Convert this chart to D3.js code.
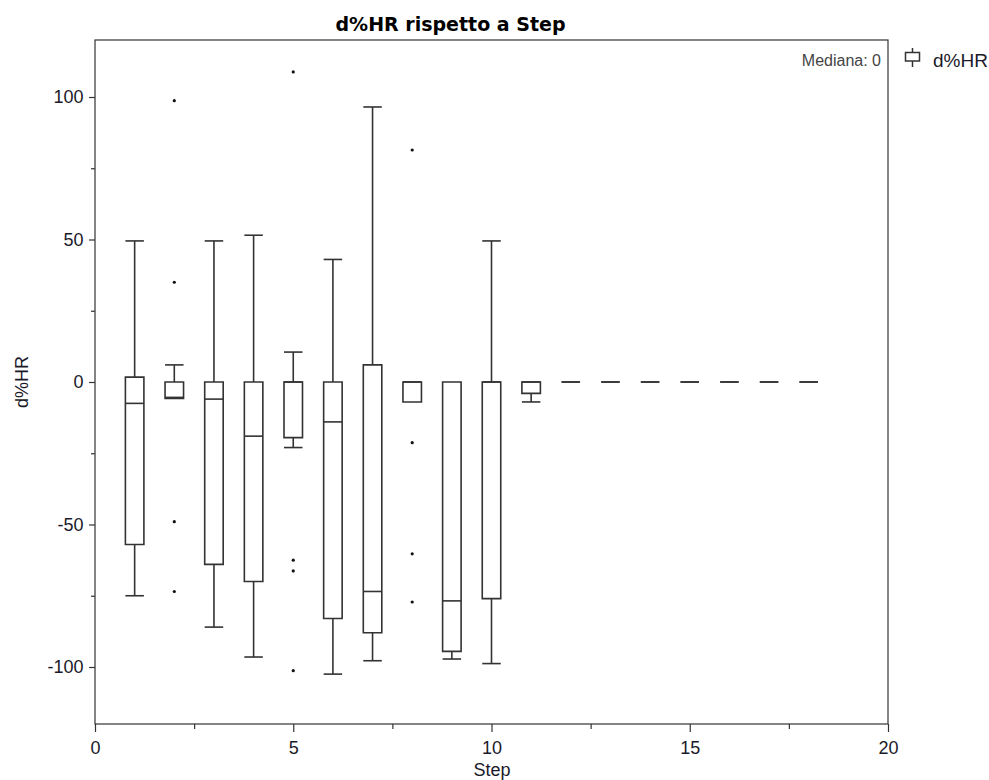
<!DOCTYPE html>
<html><head><meta charset="utf-8">
<script src="https://cdn.jsdelivr.net/npm/d3@7"></script>
<style>body{margin:0;background:#fff;}svg{display:block;font-family:"Liberation Sans",Arial,sans-serif;}</style>
</head><body>
<svg id="c" width="989" height="780"></svg>
<script>
const steps        = [1, 2, 3, 4, 5, 6, 7, 8, 9, 10, 11, 12, 13, 14, 15, 16, 17, 18];
const whiskerHigh  = [49.5, 6, 49.5, 51.5, 10.5, 43, 96.5, 0, 0, 49.5, 0, 0, 0, 0, 0, 0, 0, 0];
const q3           = [1.7, 0, 0, 0, 0, 0, 6, 0, 0, 0, 0, 0, 0, 0, 0, 0, 0, 0];
const median       = [-7.5, -5.4, -6, -19, 0, -14, -73.5, 0, -76.8, 0, 0, 0, 0, 0, 0, 0, 0, 0];
const q1           = [-57, -5.8, -64, -70, -19.5, -83, -88, -7, -94.5, -76, -4, 0, 0, 0, 0, 0, 0, 0];
const whiskerLow   = [-75, -5.8, -86, -96.5, -23, -102.5, -97.8, -7, -97.2, -98.8, -7, 0, 0, 0, 0, 0, 0, 0];
const outlierStep  = [2, 2, 2, 2, 5, 5, 5, 5, 8, 8, 8, 8];
const outlierValue = [98.7, 35, -49, -73.5, 108.8, -62.5, -66.3, -101.3, 81.4, -21.3, -60.3, -77.2];
const xTicks = [0, 5, 10, 15, 20];
const yTicks = [-100, -50, 0, 50, 100];

const svg = d3.select("#c");
const L = 95, R = 888, T = 40, B = 724;
const x = d3.scaleLinear().domain([0, 20]).range([L, R]);
const y = d3.scaleLinear().domain([-120, 120]).range([B, T]);
const bw = 18.5;
const ink = "#333";
const txt = "#1a1a2a";

svg.append("text").attr("x", 450.5).attr("y", 31).attr("text-anchor", "middle")
  .attr("font-family", '"DejaVu Sans",Verdana,sans-serif')
  .attr("font-size", 19).attr("font-weight", "bold").attr("fill", "#000").text("d%HR rispetto a Step");

// frame
svg.append("rect").attr("x", L).attr("y", T).attr("width", R - L).attr("height", B - T)
  .attr("fill", "none").attr("stroke", ink).attr("stroke-width", 1.2);

// axes
const xa = svg.append("g").attr("transform", `translate(0,${B})`)
  .call(d3.axisBottom(x).tickValues(xTicks).tickSize(8).tickPadding(9).tickFormat(d3.format("d")));
const xm = svg.append("g").attr("transform", `translate(0,${B})`)
  .call(d3.axisBottom(x).tickValues([2.5, 7.5, 12.5, 17.5]).tickSize(5).tickFormat(""));
const ya = svg.append("g").attr("transform", `translate(${L},0)`)
  .call(d3.axisLeft(y).tickValues(yTicks).tickSize(6).tickPadding(5.5).tickFormat(d => d < 0 ? "-" + Math.abs(d) : d));
const ym = svg.append("g").attr("transform", `translate(${L},0)`)
  .call(d3.axisLeft(y).tickValues([-75, -25, 25, 75]).tickSize(4).tickFormat(""));
[xa, xm, ya, ym].forEach(g => {
  g.select(".domain").remove();
  g.selectAll("line").attr("stroke", ink).attr("stroke-width", 1.2);
  g.selectAll("text").attr("font-size", 18).attr("fill", txt).attr("font-family", '"Liberation Sans",Arial,sans-serif');
});

svg.append("text").attr("x", 492).attr("y", 776).attr("text-anchor", "middle")
  .attr("font-size", 18).attr("fill", txt).text("Step");
svg.append("text").attr("transform", `translate(28,${y(0)}) rotate(-90)`).attr("text-anchor", "middle")
  .attr("font-size", 18).attr("fill", txt).text("d%HR");

svg.append("text").attr("x", 881).attr("y", 66).attr("text-anchor", "end")
  .attr("font-size", 16).attr("fill", "#444").text("Mediana: 0");

// boxes
const data = steps.map((s, i) => ({s, wh: whiskerHigh[i], q3: q3[i], md: median[i], q1: q1[i], wl: whiskerLow[i]}));
const g = svg.append("g").attr("fill", "none").attr("stroke", ink).attr("stroke-width", 1.6);
data.forEach(d => {
  const cx = x(d.s), x0 = cx - bw / 2, x1 = cx + bw / 2;
  if (d.wh > d.q3) {
    g.append("line").attr("x1", cx).attr("x2", cx).attr("y1", y(d.wh)).attr("y2", y(d.q3));
    g.append("line").attr("x1", x0).attr("x2", x1).attr("y1", y(d.wh)).attr("y2", y(d.wh));
  }
  if (d.wl < d.q1) {
    g.append("line").attr("x1", cx).attr("x2", cx).attr("y1", y(d.q1)).attr("y2", y(d.wl));
    g.append("line").attr("x1", x0).attr("x2", x1).attr("y1", y(d.wl)).attr("y2", y(d.wl));
  }
  g.append("path").attr("d", `M${x0},${y(d.q3)}H${x1}V${y(d.q1)}H${x0}Z`);
  g.append("line").attr("x1", x0).attr("x2", x1).attr("y1", y(d.md)).attr("y2", y(d.md));
});

svg.append("g").selectAll("circle").data(outlierStep.map((s, i) => [s, outlierValue[i]])).join("circle")
  .attr("cx", d => x(d[0])).attr("cy", d => y(d[1])).attr("r", 1.6).attr("fill", "#111");

// legend
const lg = svg.append("g").attr("fill", "none").attr("stroke", ink).attr("stroke-width", 1.5);
lg.append("line").attr("x1", 912.5).attr("x2", 912.5).attr("y1", 48).attr("y2", 67);
lg.append("rect").attr("x", 905.5).attr("y", 52.5).attr("width", 14).attr("height", 8.5).attr("fill", "#fff");
svg.append("text").attr("x", 933).attr("y", 66.5).attr("font-size", 19).attr("fill", txt).text("d%HR");
</script>
</body></html>
